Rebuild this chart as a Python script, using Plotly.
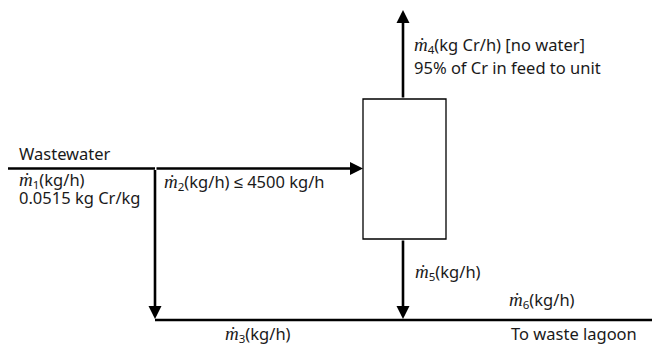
import plotly.graph_objects as go

MDOT = "<i><span style=\"font-family:Liberation Serif;font-size:19px\">ṁ</span></i>"

# Stream labels (text) and their anchor points (diagram coordinates, px)
label_texts = [
    "Wastewater",
    MDOT + "<sub>1</sub>(kg/h)",
    "0.0515 kg Cr/kg",
    MDOT + "<sub>2</sub>(kg/h) ≤ 4500 kg/h",
    MDOT + "<sub>4</sub>(kg Cr/h) [no water]",
    "95% of Cr in feed to unit",
    MDOT + "<sub>5</sub>(kg/h)",
    MDOT + "<sub>6</sub>(kg/h)",
    MDOT + "<sub>3</sub>(kg/h)",
    "To waste lagoon",
]
label_x = [17, 17, 17, 162, 412, 412, 413, 507, 223, 509]
label_y = [153, 180, 197, 182, 45, 67, 272, 300, 334, 333]

fig = go.Figure()

LW = 2.6
lines = [
    (8, 168.5, 155, 168.5),      # feed to split
    (155, 320, 660, 320),        # bottom waste line
]
for x0, y0, x1, y1 in lines:
    fig.add_shape(type="line", x0=x0, y0=y0, x1=x1, y1=y1,
                  line=dict(color="black", width=LW))

# unit box
fig.add_shape(type="rect", x0=363, y0=99, x1=446, y1=239,
              line=dict(color="black", width=1.3), fillcolor="white")

# arrows: (tail_x, tail_y, head_x, head_y)
arrows = [
    (155, 168.5, 363, 168.5),
    (155, 168.5, 155, 319),
    (403, 99, 403, 10),
    (403, 239, 403, 319),
]
for tx, ty, hx, hy in arrows:
    fig.add_annotation(x=hx, y=hy, ax=tx, ay=ty, xref="x", yref="y",
                       axref="x", ayref="y", text="", showarrow=True,
                       arrowhead=2, arrowsize=1.0, arrowwidth=LW,
                       arrowcolor="black", standoff=0, startstandoff=0)

for t, x, y in zip(label_texts, label_x, label_y):
    fig.add_annotation(x=x, y=y, xref="x", yref="y", text=t, showarrow=False,
                       xanchor="left", yanchor="middle",
                       font=dict(family="Noto Sans, Liberation Sans, sans-serif",
                                 size=16.5, color="#1a1a1a"))

# page body has an 8px margin: shrink the figure and shift ranges so that
# diagram coordinates match the 660x344 window pixels
fig.update_xaxes(range=[8, 660], visible=False, fixedrange=True)
fig.update_yaxes(range=[344, 8], visible=False, fixedrange=True)
fig.update_layout(width=652, height=336, margin=dict(l=0, r=0, t=0, b=0),
                  plot_bgcolor="white", paper_bgcolor="white", showlegend=False)

fig.write_html("out.html")
